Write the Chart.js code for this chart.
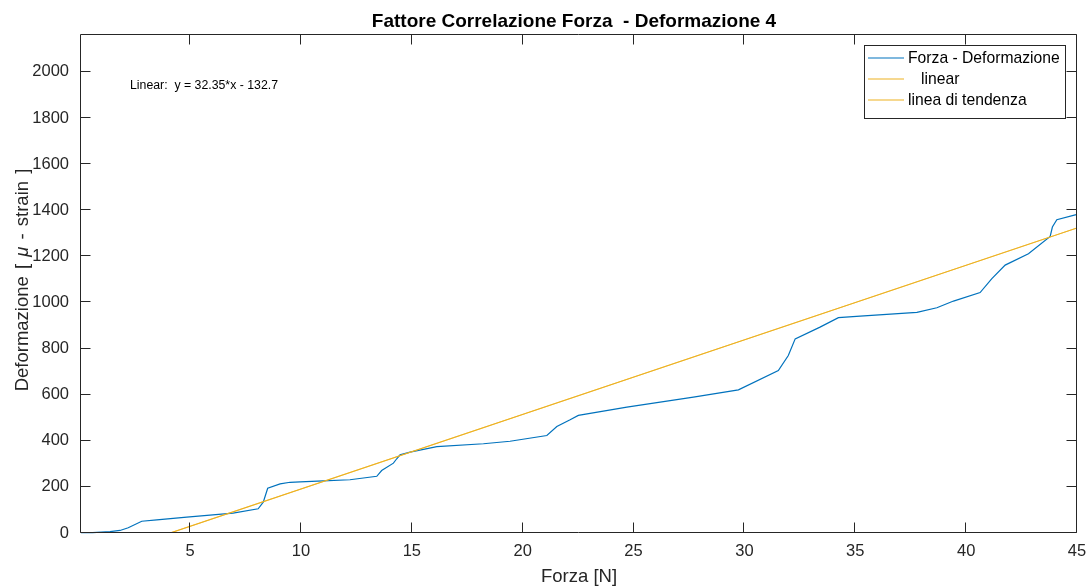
<!DOCTYPE html>
<html>
<head>
<meta charset="utf-8">
<title>Fattore Correlazione Forza - Deformazione 4</title>
<script src="https://cdn.jsdelivr.net/npm/chart.js@4.4.1/dist/chart.umd.min.js"></script>
<style>
  html, body { margin: 0; padding: 0; background: #ffffff; }
  #wrap { width: 1090px; height: 586px; }
</style>
</head>
<body>
<div id="wrap"><canvas id="chart" width="1090" height="586"></canvas></div>
<script>
// Measured force [N] and strain [micro-strain]
const forza = [0.08, 0.60, 1.39, 1.84, 2.21, 2.82, 3.50, 4.85, 6.94, 8.07, 8.30, 8.50, 9.06, 9.51, 9.96,
  11.01, 12.21, 13.42, 13.64, 14.17, 14.32, 14.47, 14.92, 16.13, 18.23, 19.43, 21.09, 21.54, 22.14, 22.51,
  24.70, 27.70, 29.73, 31.53, 31.98, 32.29, 33.41, 34.24, 35.22, 37.78, 38.68, 39.43, 40.63, 41.16, 41.76,
  42.81, 43.79, 43.89, 44.09, 44.92, 45.00];
const deformazione = [1, 2, 6, 11, 23, 51, 57, 69, 86, 105, 134, 194, 213, 220, 222,
  226, 231, 246, 271, 303, 322, 339, 351, 375, 387, 398, 423, 462, 491, 510,
  546, 589, 621, 705, 770, 842, 893, 934, 941, 957, 977, 1006, 1043, 1103, 1162,
  1211, 1286, 1327, 1359, 1380, 1381];

// Linear fit coefficients: y = p1*x + p2
const fitP1 = 32.35;
const fitP2 = -132.7;

// Axis limits and tick values
const xLimits = [0.08, 45];
const yLimits = [0, 2160];
const xTicks = [5, 10, 15, 20, 25, 30, 35, 40, 45];
const yTicks = [0, 200, 400, 600, 800, 1000, 1200, 1400, 1600, 1800, 2000];

const titleText = 'Fattore Correlazione Forza  - Deformazione 4';
const xLabel = 'Forza [N]';
const fitText = 'Linear:  y = 32.35*x - 132.7';
const seriesNames = ['Forza - Deformazione', '   linear', 'linea di tendenza'];

const FONT = '"Liberation Sans", Arial, Helvetica, sans-serif';
const AXIS_COLOR = '#262626';
const BLUE = '#0072BD';
const ORANGE = '#EDB120';

const measured = forza.map((x, i) => ({ x: x, y: deformazione[i] }));
const fitLine = xLimits.map(x => ({ x: x, y: fitP1 * x + fitP2 }));

// Frame, inward ticks, titles, fit text and legend box
const decorations = {
  id: 'decorations',
  afterDraw(chart) {
    const ctx = chart.ctx;
    const ca = chart.chartArea;
    const xs = chart.scales.x, ys = chart.scales.y;
    const L = ca.left - 0.5, R = ca.right - 0.5, T = ca.top - 0.5, B = ca.bottom - 0.5;
    const tl = 10;
    ctx.save();
    ctx.strokeStyle = AXIS_COLOR;
    ctx.lineWidth = 1;
    ctx.beginPath();
    ctx.rect(L, T, R - L, B - T);
    xs.ticks.forEach(t => {
      const px = Math.round(xs.getPixelForValue(t.value)) - 0.5;
      ctx.moveTo(px, B); ctx.lineTo(px, B - tl);
      ctx.moveTo(px, T); ctx.lineTo(px, T + tl);
    });
    ys.ticks.forEach(t => {
      const py = Math.round(ys.getPixelForValue(t.value)) - 0.5;
      ctx.moveTo(L, py); ctx.lineTo(L + tl, py);
      ctx.moveTo(R, py); ctx.lineTo(R - tl, py);
    });
    ctx.stroke();

    // title
    ctx.fillStyle = '#000000';
    ctx.font = 'bold 19px ' + FONT;
    ctx.textAlign = 'center';
    ctx.textBaseline = 'alphabetic';
    ctx.fillText(titleText, (ca.left + ca.right) / 2 - 5, 27);

    // x label
    ctx.fillStyle = AXIS_COLOR;
    ctx.font = '18.5px ' + FONT;
    ctx.fillText(xLabel, (ca.left + ca.right) / 2, 582);

    // y label with italic mu, TeX-like spacing
    const gap = 2;
    const parts = [
      { t: 'Deformazione', f: '18.5px ' + FONT, g: gap },
      { t: ' [', f: '18.5px ' + FONT, g: gap },
      { t: ' ', f: '18.5px ' + FONT, g: 0 },
      { t: '\u03BC', f: 'italic 18.5px ' + FONT, g: gap },
      { t: ' -', f: '18.5px ' + FONT, g: gap },
      { t: ' strain', f: '18.5px ' + FONT, g: gap },
      { t: ' ]', f: '18.5px ' + FONT, g: 0 }
    ];
    let total = 0;
    parts.forEach(p => { ctx.font = p.f; p.w = ctx.measureText(p.t).width; total += p.w + p.g; });
    ctx.save();
    ctx.translate(28, (ca.top + ca.bottom) / 2 - 4);
    ctx.rotate(-Math.PI / 2);
    ctx.textAlign = 'left';
    let cx = -total / 2;
    parts.forEach(p => { ctx.font = p.f; ctx.fillText(p.t, cx, 0); cx += p.w + p.g; });
    ctx.restore();

    // fit equation
    ctx.fillStyle = '#000000';
    ctx.font = '12.3px ' + FONT;
    ctx.textAlign = 'left';
    ctx.fillText(fitText, ca.left + 49, ca.top + 54);

    // legend
    const bx = 864.5, by = 45.5, bw = 201, bh = 73;
    ctx.fillStyle = '#ffffff';
    ctx.fillRect(bx, by, bw, bh);
    ctx.strokeStyle = AXIS_COLOR;
    ctx.lineWidth = 1;
    ctx.strokeRect(bx, by, bw, bh);
    ctx.font = '15.7px ' + FONT;
    ctx.textBaseline = 'middle';
    chart.data.datasets.forEach((ds, i) => {
      const yy = Math.round(by + 12 + i * 21);
      ctx.strokeStyle = ds.borderColor;
      ctx.lineWidth = i === 1 ? 1 : 1.2;
      ctx.beginPath();
      ctx.moveTo(868, yy);
      ctx.lineTo(904, yy);
      ctx.stroke();
      ctx.fillStyle = '#000000';
      ctx.fillText(ds.label, 908, yy + 1);
    });
    ctx.restore();
  }
};

new Chart(document.getElementById('chart'), {
  type: 'scatter',
  data: {
    datasets: [
      { label: seriesNames[0], data: measured, showLine: true, borderColor: BLUE, borderWidth: 1.2,
        pointRadius: 0, tension: 0, order: 3, clip: 3 },
      { label: seriesNames[1], data: fitLine, showLine: true, borderColor: ORANGE, borderWidth: 0.6,
        pointRadius: 0, tension: 0, order: 2 },
      { label: seriesNames[2], data: fitLine, showLine: true, borderColor: ORANGE, borderWidth: 1.2,
        pointRadius: 0, tension: 0, order: 1 }
    ]
  },
  options: {
    responsive: false,
    animation: false,
    devicePixelRatio: 1,
    layout: { padding: { top: 35, right: 13, left: 0, bottom: 0 } },
    plugins: { legend: { display: false }, title: { display: false }, tooltip: { enabled: false } },
    scales: {
      x: {
        type: 'linear', min: xLimits[0], max: xLimits[1],
        afterBuildTicks: s => { s.ticks = xTicks.map(v => ({ value: v })); },
        afterFit: s => { s.height = 53; s.paddingLeft = 0; s.paddingRight = 0; },
        grid: { display: false, drawTicks: false },
        border: { display: false },
        ticks: { color: AXIS_COLOR, font: { family: FONT, size: 16.5 }, padding: 9,
                 maxRotation: 0, autoSkip: false, callback: v => String(v) }
      },
      y: {
        type: 'linear', min: yLimits[0], max: yLimits[1],
        afterBuildTicks: s => { s.ticks = yTicks.map(v => ({ value: v })); },
        afterFit: s => { s.width = 81; s.paddingTop = 0; s.paddingBottom = 0; },
        grid: { display: false, drawTicks: false },
        border: { display: false },
        ticks: { color: AXIS_COLOR, font: { family: FONT, size: 16.5 }, padding: 12,
                 autoSkip: false, callback: v => String(v) }
      }
    }
  },
  plugins: [decorations]
});
</script>
</body>
</html>
